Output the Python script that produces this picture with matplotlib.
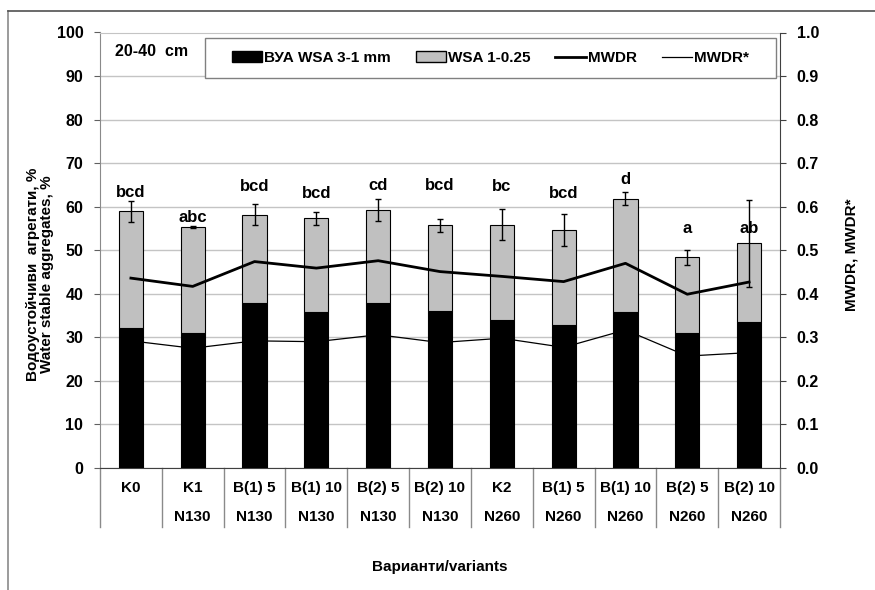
import matplotlib
matplotlib.use("Agg")
import matplotlib.pyplot as plt
import numpy as np
from matplotlib.lines import Line2D
from matplotlib.patches import Patch, Rectangle
from matplotlib.transforms import blended_transform_factory

plt.rcParams['font.family'] = ['Liberation Sans', 'DejaVu Sans']
plt.rcParams['font.weight'] = 'bold'

# Variants: treatment row and nitrogen row
variant_names = ['K0', 'K1', 'B(1) 5', 'B(1) 10', 'B(2) 5', 'B(2) 10',
                 'K2', 'B(1) 5', 'B(1) 10', 'B(2) 5', 'B(2) 10']
nitrogen_levels = ['', 'N130', 'N130', 'N130', 'N130', 'N130',
                   'N260', 'N260', 'N260', 'N260', 'N260']

# Water stable aggregates, %
wsa_3_1 = [32.1, 31.0, 37.9, 35.8, 37.9, 36.0, 34.0, 32.9, 35.8, 31.0, 33.5]
wsa_1_025 = [26.8, 24.3, 20.3, 21.5, 21.3, 19.7, 21.9, 21.7, 26.0, 17.4, 18.1]
wsa_error = [2.3, 0.3, 2.5, 1.4, 2.5, 1.4, 3.6, 3.7, 1.5, 1.7, 10.0]

# Mean weight diameter ratios
mwdr = [0.436, 0.417, 0.474, 0.459, 0.476, 0.451, 0.440, 0.428, 0.470, 0.399, 0.427]
mwdr_star = [0.292, 0.275, 0.292, 0.290, 0.306, 0.288, 0.298, 0.277, 0.317, 0.257, 0.265]

# Significance groups and the heights (%) where they are written
groups = ['bcd', 'abc', 'bcd', 'bcd', 'cd', 'bcd', 'bc', 'bcd', 'd', 'a', 'ab']
group_y = [63.2, 57.5, 64.7, 63.0, 64.8, 64.8, 64.7, 63.0, 66.2, 55.1, 55.1]

W, H = 875, 590
fig = plt.figure(figsize=(W / 100, H / 100), dpi=100)
ax_l, ax_r, ax_t, ax_b = 100, 780, 32.5, 468
ax = fig.add_axes([ax_l / W, 1 - ax_b / H, (ax_r - ax_l) / W, (ax_b - ax_t) / H])

x = np.arange(len(variant_names))
total = np.array(wsa_3_1) + np.array(wsa_1_025)
bw = 0.39

ax.bar(x, wsa_3_1, width=bw, color='black', edgecolor='black', linewidth=0.8, zorder=3)
ax.bar(x, wsa_1_025, width=bw, bottom=wsa_3_1, color='#c0c0c0', edgecolor='black',
       linewidth=0.8, zorder=3)
ax.errorbar(x, total, yerr=wsa_error, fmt='none', ecolor='black', elinewidth=1.0,
            capsize=2.5, capthick=1.0, zorder=6)

for xi, g, gy in zip(x, groups, group_y):
    ax.text(xi, gy, g, ha='center', va='center', fontsize=12, fontweight='bold', zorder=7)

ax.set_xlim(-0.5, len(variant_names) - 0.5)
ax.set_ylim(0, 100)
ax.set_yticks(np.arange(0, 101, 10))
ax.yaxis.grid(True, color='#c4c4c4', linewidth=1.0)
ax.set_axisbelow(True)
ax.set_xticks([])
ax.tick_params(axis='y', direction='out', length=4, width=0.8, color='#606060',
               labelsize=11.5, pad=8)
for lab in ax.get_yticklabels():
    lab.set_fontweight('bold')
ax.spines['left'].set_color('#8a8a8a')
ax.spines['bottom'].set_color('#404040')
ax.spines['top'].set_color('#c4c4c4')
ax.spines['right'].set_visible(False)

# Right axis with the MWDR lines
ax2 = ax.twinx()
ax2.plot(x, mwdr_star, color='black', linewidth=0.9, zorder=2)
ax2.plot(x, mwdr, color='black', linewidth=2.0, zorder=4)
ax2.set_ylim(0, 1.0)
ax2.set_yticks(np.arange(0, 1.01, 0.1))
ax2.set_yticklabels([f'{v:.1f}' for v in np.arange(0, 1.01, 0.1)])
ax2.tick_params(axis='y', direction='out', length=4, width=0.8, color='#404040',
                labelsize=11.5, pad=8)
for lab in ax2.get_yticklabels():
    lab.set_fontweight('bold')
for side in ['left', 'top', 'bottom']:
    ax2.spines[side].set_visible(False)
ax2.spines['right'].set_color('#404040')

# Category table under the x axis
tr = blended_transform_factory(ax.transData, ax.transAxes)
axh = ax_b - ax_t
sep_bottom = -(527 - ax_b) / axh
for b in np.arange(-0.5, len(variant_names), 1.0):
    ax.add_line(Line2D([b, b], [0, sep_bottom], transform=tr, color='#8a8a8a',
                       linewidth=1.0, clip_on=False))
for xi, name, n in zip(x, variant_names, nitrogen_levels):
    ax.text(xi, -(488 - ax_b) / axh, name, transform=tr, ha='center', va='center',
            fontsize=11, fontweight='bold', clip_on=False)
    if n:
        ax.text(xi, -(517 - ax_b) / axh, n, transform=tr, ha='center', va='center',
                fontsize=11, fontweight='bold', clip_on=False)

# Depth label
ax.text((115 - ax_l) / (ax_r - ax_l), (ax_b - 52) / axh, '20-40  cm', transform=ax.transAxes,
        ha='left', va='center', fontsize=11.5, fontweight='bold', zorder=7)

# Legend in a framed box
lx0, lx1, ly0, ly1 = 205, 776, 38, 78
box = Rectangle(((lx0 - ax_l) / (ax_r - ax_l), (ax_b - ly1) / axh),
                (lx1 - lx0) / (ax_r - ax_l), (ly1 - ly0) / axh,
                transform=ax.transAxes, facecolor='white', edgecolor='#808080',
                linewidth=1.0, zorder=8, clip_on=False)
ax2.add_patch(box)
handles = [Patch(facecolor='black', edgecolor='black'),
           Patch(facecolor='#c0c0c0', edgecolor='black'),
           Line2D([], [], color='black', linewidth=2.0),
           Line2D([], [], color='black', linewidth=0.9)]
labels = ['ВУА WSA 3-1 mm', 'WSA 1-0.25', 'MWDR', 'MWDR*']
leg = ax2.legend(handles, labels, loc='center', ncol=4, frameon=False,
                 bbox_to_anchor=(((lx0 + lx1) / 2 - ax_l) / (ax_r - ax_l),
                                 (ax_b - (ly0 + ly1) / 2) / axh),
                 fontsize=11, handlelength=2.0, handleheight=0.7, handletextpad=0.15,
                 columnspacing=1.6, borderpad=0)
leg.set_zorder(9)
for t in leg.get_texts():
    t.set_fontweight('bold')

# Axis titles
fig.text(40 / W, 1 - 274 / H, 'Водоустойчиви  агрегати, %\nWater stable aggregates, %',
         rotation=90, ha='center', va='center', fontsize=11, fontweight='bold',
         linespacing=1.0)
fig.text(852 / W, 1 - 255 / H, 'MWDR, MWDR*', rotation=90, ha='center', va='center',
         fontsize=11, fontweight='bold')
fig.text(440 / W, 1 - 567 / H, 'Варианти/variants', ha='center', va='center',
         fontsize=11, fontweight='bold')

# Outer chart frame
fig.add_artist(Line2D([8 / W, 8 / W], [0, 1 - 11 / H], transform=fig.transFigure,
                      color='#8a8a8a', linewidth=1.2))
fig.add_artist(Line2D([8 / W, 1], [1 - 11 / H, 1 - 11 / H], transform=fig.transFigure,
                      color='#505050', linewidth=1.2))

fig.savefig('out.png', dpi=100)
